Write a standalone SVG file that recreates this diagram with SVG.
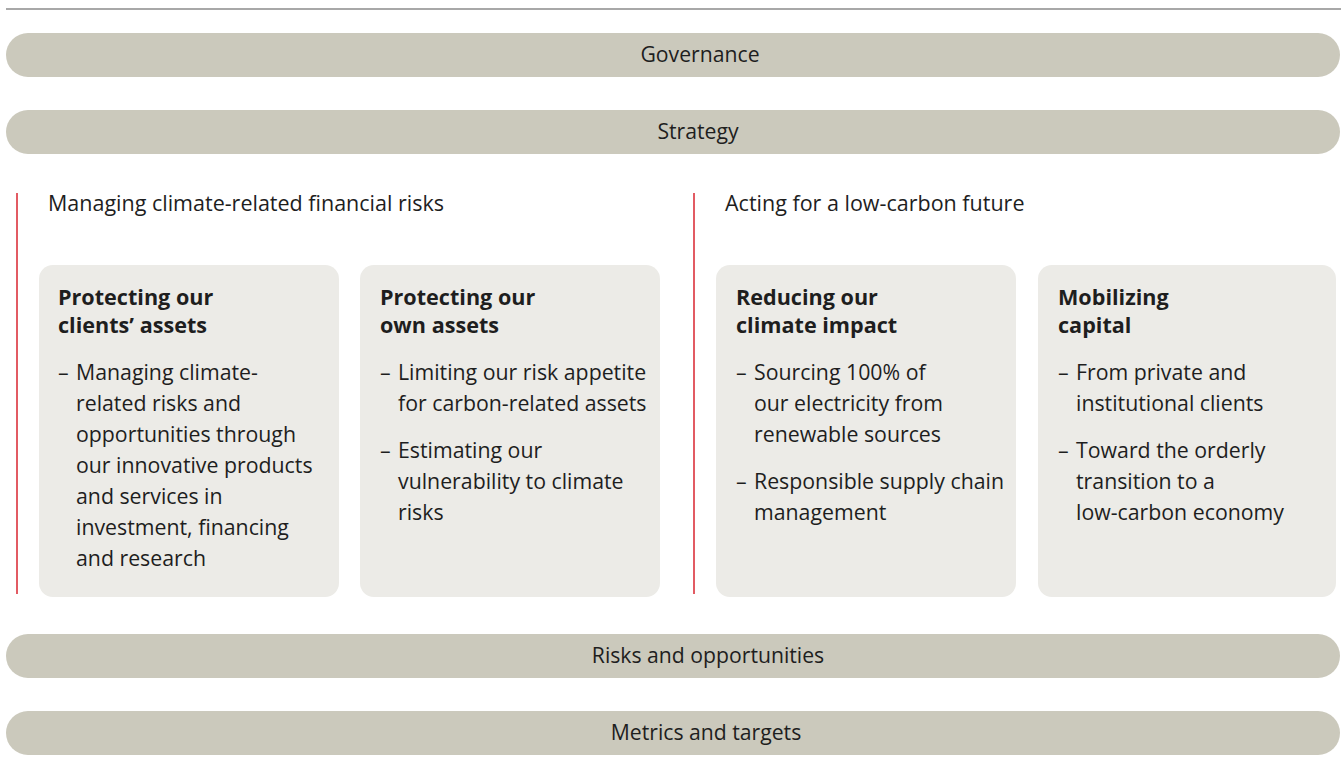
<svg xmlns="http://www.w3.org/2000/svg" width="1341" height="769" viewBox="0 0 1341 769">
<style>
.bar{fill:#cbc9bc}
.card{fill:#ecebe7}
.red{stroke:#d9252f;stroke-width:1.5}
text{font-family:"Open Sans","Noto Sans",sans-serif;fill:#1e1e1e}
.bt{font-size:21.2px;text-anchor:middle}
.hd{font-size:21.5px}
.ti{font-size:21.6px;font-weight:bold}
.bd{font-size:21.3px}
</style>
<rect width="1341" height="769" fill="#ffffff"/>
<line x1="6" y1="9" x2="1341" y2="9" stroke="#a8a8a8" stroke-width="2"/>
<g id="governance"><rect class="bar" x="6" y="33" width="1334" height="44" rx="22"/><text class="bt" x="700" y="62">Governance</text></g>
<g id="strategy"><rect class="bar" x="6" y="110" width="1334" height="44" rx="22"/><text class="bt" x="698" y="139">Strategy</text></g>
<g id="connectors"><line class="red" x1="17" y1="193" x2="17" y2="594"/><line class="red" x1="694" y1="193" x2="694" y2="594"/></g>
<g id="managing"><text class="hd" x="48" y="211">Managing climate-related financial risks</text></g>
<g id="acting"><text class="hd" x="725" y="211">Acting for a low-carbon future</text></g>
<g id="card-clients"><rect class="card" x="39" y="265" width="300" height="332" rx="14"/>
<text class="ti" x="58" y="305">Protecting our</text><text class="ti" x="58" y="333">clients’ assets</text>
<text class="bd" x="58" y="380">–</text>
<text class="bd" x="76" y="380">Managing climate-</text>
<text class="bd" x="76" y="411">related risks and</text>
<text class="bd" x="76" y="442">opportunities through</text>
<text class="bd" x="76" y="473">our innovative products</text>
<text class="bd" x="76" y="504">and services in</text>
<text class="bd" x="76" y="535">investment, financing</text>
<text class="bd" x="76" y="566">and research</text>
</g>
<g id="card-own"><rect class="card" x="360" y="265" width="300" height="332" rx="14"/>
<text class="ti" x="380" y="305">Protecting our</text><text class="ti" x="380" y="333">own assets</text>
<text class="bd" x="380" y="380">–</text>
<text class="bd" x="398" y="380">Limiting our risk appetite</text>
<text class="bd" x="398" y="411">for carbon-related assets</text>
<text class="bd" x="380" y="458">–</text>
<text class="bd" x="398" y="458">Estimating our</text>
<text class="bd" x="398" y="489">vulnerability to climate</text>
<text class="bd" x="398" y="520">risks</text>
</g>
<g id="card-reducing"><rect class="card" x="716" y="265" width="300" height="332" rx="14"/>
<text class="ti" x="736" y="305">Reducing our</text><text class="ti" x="736" y="333">climate impact</text>
<text class="bd" x="736" y="380">–</text>
<text class="bd" x="754" y="380">Sourcing 100% of</text>
<text class="bd" x="754" y="411">our electricity from</text>
<text class="bd" x="754" y="442">renewable sources</text>
<text class="bd" x="736" y="489">–</text>
<text class="bd" x="754" y="489">Responsible supply chain</text>
<text class="bd" x="754" y="520">management</text>
</g>
<g id="card-mobilizing"><rect class="card" x="1038" y="265" width="298" height="332" rx="14"/>
<text class="ti" x="1058" y="305">Mobilizing</text><text class="ti" x="1058" y="333">capital</text>
<text class="bd" x="1058" y="380">–</text>
<text class="bd" x="1076" y="380">From private and</text>
<text class="bd" x="1076" y="411">institutional clients</text>
<text class="bd" x="1058" y="458">–</text>
<text class="bd" x="1076" y="458">Toward the orderly</text>
<text class="bd" x="1076" y="489">transition to a</text>
<text class="bd" x="1076" y="520">low-carbon economy</text>
</g>
<g id="risks"><rect class="bar" x="6" y="634" width="1334" height="44" rx="22"/><text class="bt" x="708" y="663">Risks and opportunities</text></g>
<g id="metrics"><rect class="bar" x="6" y="711" width="1334" height="44" rx="22"/><text class="bt" x="706" y="740">Metrics and targets</text></g>
</svg>
